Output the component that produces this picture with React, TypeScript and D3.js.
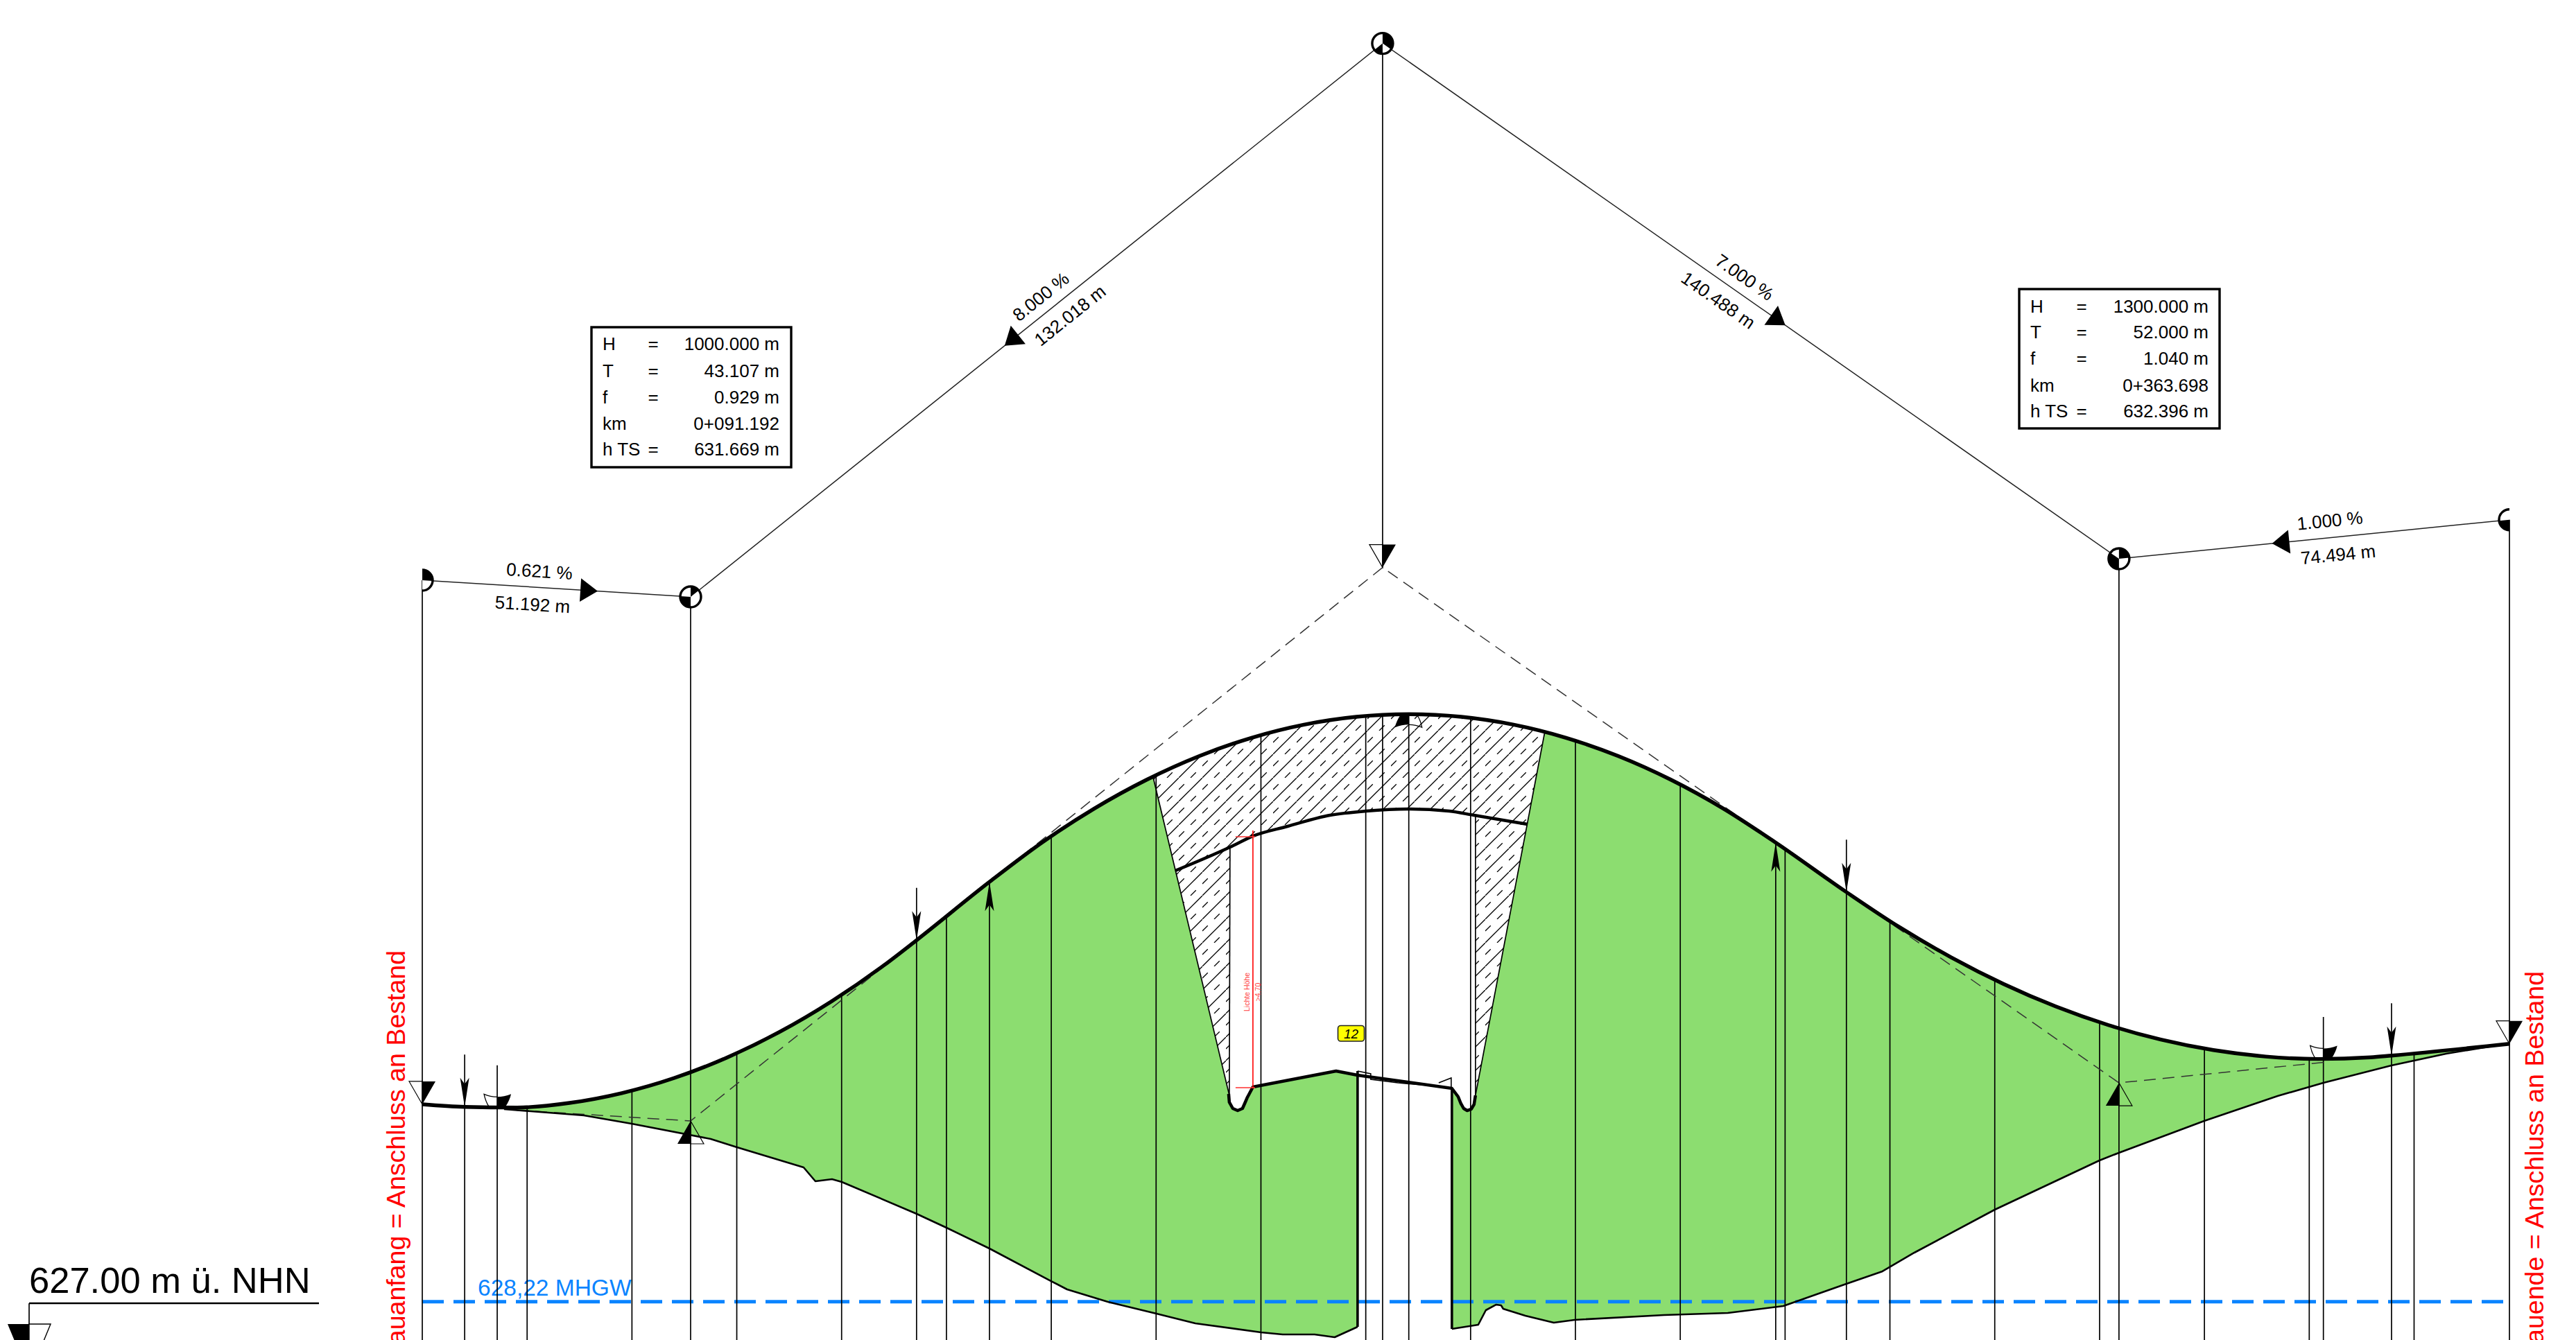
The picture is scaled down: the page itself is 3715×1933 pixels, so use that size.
import React from "react";
import * as d3 from "d3";

// ---- Data: stationing in metres (km 0+xxx) and heights in m ü. NHN ----
const tangentKm = [40, 91.192, 223.21, 363.698, 438.192];
const tangentH = [631.987, 631.669, 642.23, 632.396, 633.141];
const tangentLift = 10;

const profileKm = [40, 48.085, 58.085, 68.085, 78.085, 88.085, 98.085, 108.085, 118.085, 128.085, 134.299,
  148.21, 158.21, 168.21, 178.21, 188.21, 198.21, 208.21, 218.21, 228.21, 238.21, 248.21, 258.21, 268.21, 278.21, 288.21, 298.21,
  311.698, 321.698, 331.698, 341.698, 351.698, 361.698, 371.698, 381.698, 391.698, 401.698, 411.698, 415.698, 438.192];
const profileH = [631.987, 631.937, 631.925, 632.013, 632.201, 632.489, 632.877, 633.364, 633.952, 634.64, 635.118,
  636.23, 636.98, 637.63, 638.18, 638.63, 638.98, 639.23, 639.38, 639.43, 639.38, 639.23, 638.98, 638.63, 638.18, 637.63, 636.98,
  636.036, 635.374, 634.79, 634.282, 633.851, 633.498, 633.221, 633.021, 632.898, 632.851, 632.882, 632.916, 633.141];

const groundLeftKm = [55.6, 70.82, 79.95, 95.03, 100.05, 112.75, 115, 118.17, 120.03, 134.31, 140, 148.2, 159.97, 163.02, 170.82, 180.08, 187.49, 200.05, 204.15, 210.24, 214.07, 218.44];
const groundLeftH = [631.894, 631.775, 631.616, 631.325, 631.166, 630.783, 630.518, 630.558, 630.505, 629.897, 629.632, 629.235, 628.613, 628.455, 628.217, 627.992, 627.807, 627.635, 627.595, 627.595, 627.542, 627.74];

const groundRightKm = [236.43, 241.46, 242.91, 244.89, 245.82, 246.22, 250.45, 255.87, 259.84, 276.9, 289.07, 299.66, 311.3, 318.57, 324.66, 340, 359.97, 363.68, 379.95, 393.97, 402.7, 415.66, 426.11, 438.16];
const groundRightH = [627.701, 627.78, 628.058, 628.164, 628.15, 628.084, 627.952, 627.82, 627.873, 627.965, 628.005, 628.137, 628.547, 628.799, 629.156, 629.976, 630.915, 631.061, 631.669, 632.145, 632.397, 632.727, 632.952, 633.15];

const roadLeftKm = [193.84, 193.97, 194.63, 195.56, 196.48, 197.01, 197.41, 198.47, 214.34, 218.44];
const roadLeftH = [632.185, 632.026, 631.907, 631.867, 631.907, 632.026, 632.119, 632.317, 632.621, 632.542];
const roadRightKm = [218.44, 236.43, 237.62, 238.15, 238.68, 239.34, 240.13, 240.66, 240.93];
const roadRightH = [632.542, 632.291, 632.132, 632, 631.907, 631.867, 631.894, 631.986, 632.158];

const archKm = [183.65, 194.1, 198.47, 205.08, 213.15, 220.03, 228.36, 235.9, 240.66, 250.85];
const archH = [636.444, 636.894, 637.105, 637.291, 637.502, 637.582, 637.621, 637.582, 637.502, 637.331];

const slopeLeftTop = [179.4, 638.24];
const slopeLeftFoot = [193.97, 632.158];
const slopeRightTop = [254.15, 639.09];
const slopeRightFoot = [240.93, 632.158];
const abutmentKm = [218.44, 236.43];
const abutmentTopH = [632.621, 632.291];
const abutmentFootH = [627.74, 627.701];

const capKm = [218.44, 220.95, 220.95, 226.11, 233.92];
const capH = [632.621, 632.569, 632.463, 632.396, 632.33];
const flagKm = [233.92, 236.3, 236.3];
const flagH = [632.396, 632.489, 632.291];
const clearanceKm = 198.47;
const clearanceH = [637.105, 632.317];

const stationKm = [60, 80, 100, 120, 140, 160, 180, 200, 220, 240, 260, 280, 300, 320, 340, 360, 380, 400, 420];
const arrowDownKm = [48.085, 134.299, 311.698, 415.698];
const arrowUpKm = [148.21, 298.21];
const lowPointKm = [54.295, 402.698];
const crestPointKm = 228.21;
const gradeArrowKm = [73.47, 151.1, 300.05, 392.9];
const gradeArrowSeg = [0, 1, 2, 3];
const gradeArrowDir = [1, -1, 1, -1];
const mhgw = 628.22;

const gradeTexts = ["0.621 %", "8.000 %", "7.000 %", "1.000 %"];
const lengthTexts = ["51.192 m", "132.018 m", "140.488 m", "74.494 m"];
const box1Labels = ["H", "T", "f", "km", "h TS"];
const box1Eq = ["=", "=", "=", "", "="];
const box1Values = ["1000.000 m", "43.107 m", "0.929 m", "0+091.192", "631.669 m"];
const box2Values = ["1300.000 m", "52.000 m", "1.040 m", "0+363.698", "632.396 m"];

// ---- Scales ----
const W = 3715;
const H = 1933;
const x = d3.scaleLinear().domain([40, 438.192]).range([609, 3619]);
const y = d3.scaleLinear().domain([631.669, 642.23]).range([1617, 818.6]);

const FONT = "'Liberation Sans', Arial, sans-serif";
const BLUE = "#0a84ff";
const GREEN = "#8cdd70";
const RED = "#ff0000";

const zip = (a: number[], b: number[]): [number, number][] => a.map((v, i) => [v, b[i]]);
const lineLin = d3.line<[number, number]>().x((d) => x(d[0])).y((d) => y(d[1]));
const lineSmooth = d3.line<[number, number]>().x((d) => x(d[0])).y((d) => y(d[1])).curve(d3.curveMonotoneX);
const heightAt = d3.scaleLinear().domain(profileKm).range(profileH);

const profilePts = zip(profileKm, profileH);
const gLeft = zip(groundLeftKm, groundLeftH);
const gRight = zip(groundRightKm, groundRightH);
const roadL = zip(roadLeftKm, roadLeftH);
const roadR = zip(roadRightKm, roadRightH);
const arch = zip(archKm, archH);

const greenLeft: [number, number][] = [
  ...profilePts.filter((p) => p[0] > 56 && p[0] < slopeLeftTop[0]),
  slopeLeftTop as [number, number],
  ...roadL,
  ...gLeft.slice().reverse(),
];
const greenRight: [number, number][] = [
  [roadRightKm[1], roadRightH[1]],
  ...roadR.slice(2),
  slopeRightTop as [number, number],
  ...profilePts.filter((p) => p[0] > slopeRightTop[0]),
  ...gRight.slice().reverse(),
];
const hatchArea: [number, number][] = [
  slopeLeftTop as [number, number],
  ...profilePts.filter((p) => p[0] > slopeLeftTop[0] && p[0] < slopeRightTop[0]),
  slopeRightTop as [number, number],
  slopeRightFoot as [number, number],
  ...arch.slice(1, 9).reverse().map((p) => (p[0] === 240.66 ? ([240.93, p[1]] as [number, number]) : p)),
  slopeLeftFoot as [number, number],
];

const upper = (i: number): [number, number] => [x(tangentKm[i]), y(tangentH[i] + tangentLift)];
const arcGen = d3.arc();

function VpMarker({ i }: { i: number }) {
  const [cx, cy] = upper(i);
  const R = 15;
  const TAU = Math.PI * 2;
  const ang = (j: number) => {
    const [px, py] = upper(j);
    return Math.atan2(px - cx, -(py - cy)); // clockwise from north
  };
  const sectors: [number, number][] = [];
  if (i === 0) sectors.push([0, ang(1)]);
  else if (i === 4) sectors.push([Math.PI, TAU + ang(3)]);
  else {
    const norm = (t: number) => (t < 0 ? t + TAU : t);
    const an = norm(ang(i - 1));
    const bn = norm(ang(i + 1));
    sectors.push([0, Math.min(an, bn)]);
    sectors.push([Math.PI, Math.max(an, bn)]);
  }
  const clip = i === 0 ? "url(#halfR)" : i === 4 ? "url(#halfL)" : undefined;
  return (
    <g clipPath={clip}>
      <g transform={`translate(${cx},${cy})`}>
        <circle r={R} fill="#fff" stroke="#000" strokeWidth={3.4} />
        {sectors.map((s, k) => (
          <path key={k} fill="#000" d={arcGen({ innerRadius: 0, outerRadius: R, startAngle: s[0], endAngle: s[1] }) || ""} />
        ))}
      </g>
    </g>
  );
}

function GradeArrow({ i }: { i: number }) {
  const seg = gradeArrowSeg[i];
  const [x0, y0] = upper(seg);
  const [x1, y1] = upper(seg + 1);
  const len = Math.hypot(x1 - x0, y1 - y0);
  const ux = ((x1 - x0) / len) * gradeArrowDir[i];
  const uy = ((y1 - y0) / len) * gradeArrowDir[i];
  const tipX = x(gradeArrowKm[i]);
  const tipY = y0 + ((y1 - y0) * (tipX - x0)) / (x1 - x0);
  const bx = tipX - 25 * ux;
  const by = tipY - 25 * uy;
  return <path fill="#000" d={`M${tipX},${tipY}L${bx - 17 * uy},${by + 17 * ux}L${bx + 17 * uy},${by - 17 * ux}Z`} />;
}

function HalfTriangle({ km, h, dir }: { km: number; h: number; dir: number }) {
  // dir = 1: tip at the bottom, black to the right. dir = -1: tip on top, black to the left.
  const tx = x(km);
  const ty = y(h);
  const by = ty - 33 * dir;
  const black = tx + 19 * dir;
  const white = tx - 19 * dir;
  return (
    <g>
      <path d={`M${tx},${ty}L${white},${by}L${tx},${by}Z`} fill="none" stroke="#000" strokeWidth={1.2} />
      <path d={`M${tx},${ty}L${black},${by}L${tx},${by}Z`} fill="#000" />
    </g>
  );
}

function Stealth({ km, dir }: { km: number; dir: number }) {
  // dir = 1: points down on the grade line; dir = -1: points up on it.
  const tx = x(km);
  const ty = y(heightAt(km));
  const s = -dir;
  return <path fill="#000" d={`M${tx},${ty}L${tx - 6.5},${ty + s * 42}L${tx},${ty + s * 33}L${tx + 6.5},${ty + s * 42}Z`} />;
}

function Crescent({ km, dir }: { km: number; dir: number }) {
  // dir = 1: sag marker standing on the line; dir = -1: crest marker hanging under it, mirrored.
  const tx = x(km);
  const ty = y(heightAt(km));
  const s = -dir;
  const m = dir;
  const p1 = `M${tx},${ty + s * 1}L${tx + m * 12},${ty + s * 1}Q${tx + m * 18},${ty + s * 10} ${tx + m * 20},${ty + s * 19}Q${tx + m * 10},${ty + s * 15} ${tx},${ty + s * 15}Z`;
  const p2 = `M${tx},${ty + s * 15}Q${tx - m * 10},${ty + s * 15} ${tx - m * 19},${ty + s * 19}Q${tx - m * 17},${ty + s * 9} ${tx - m * 12},${ty + s * 1}`;
  return (
    <g>
      <path d={p2} fill="none" stroke="#000" strokeWidth={1.3} />
      <path d={p1} fill="#000" />
    </g>
  );
}

function LabelBox({ bx, by, bw, bh, tx, eqx, vx, rows, values }: { bx: number; by: number; bw: number; bh: number; tx: number; eqx: number; vx: number; rows: number[]; values: string[] }) {
  return (
    <g fontFamily={FONT} fontSize={26} fill="#000">
      <rect x={bx} y={by} width={bw} height={bh} fill="#fff" stroke="#000" strokeWidth={3.4} />
      {values.map((v, i) => (
        <g key={i}>
          <text x={tx} y={rows[i]} dominantBaseline="central">{box1Labels[i]}</text>
          <text x={eqx} y={rows[i]} textAnchor="middle" dominantBaseline="central">{box1Eq[i]}</text>
          <text x={vx} y={rows[i]} textAnchor="end" dominantBaseline="central">{v}</text>
        </g>
      ))}
    </g>
  );
}

function RotText({ t, px, py, a, size = 26 }: { t: string; px: number; py: number; a: number; size?: number }) {
  return (
    <text transform={`translate(${px},${py}) rotate(${a})`} textAnchor="middle" dominantBaseline="central" fontFamily={FONT} fontSize={size} fill="#000">
      {t}
    </text>
  );
}

export default function App() {
  const bottom = H;
  const vLine = (km: number, top: number, key: string, sw = 1.7) => (
    <line key={key} x1={x(km)} x2={x(km)} y1={top} y2={bottom} stroke="#000" strokeWidth={sw} />
  );
  return (
    <svg width={W} height={H} viewBox={`0 0 ${W} ${H}`} style={{ position: "fixed", left: 0, top: 0, display: "block", background: "#fff" }}>
      <defs>
        <pattern id="hatch" width={34} height={34} patternUnits="userSpaceOnUse">
          <path d="M-2,36L36,-2" stroke="#000" strokeWidth={1.3} />
          <path d="M0,17L17,0M17,34L34,17" stroke="#000" strokeWidth={1.3} strokeDasharray="11 13" />
        </pattern>
        <clipPath id="halfR"><rect x={x(40)} y={0} width={40} height={H} /></clipPath>
        <clipPath id="halfL"><rect x={x(438.192) - 40} y={0} width={40} height={H} /></clipPath>
      </defs>

      {/* fills */}
      <path d={(lineLin(greenLeft) || "") + "Z"} fill={GREEN} />
      <path d={(lineLin(greenRight) || "") + "Z"} fill={GREEN} />
      <path d={(lineLin(hatchArea) || "") + "Z"} fill="url(#hatch)" />

      {/* MHGW */}
      <line x1={x(40)} x2={x(438.192)} y1={y(mhgw)} y2={y(mhgw)} stroke={BLUE} strokeWidth={5} strokeDasharray="31 14" />
      <text x={689} y={1869} fontFamily={FONT} fontSize={33.5} fill={BLUE}>628,22 MHGW</text>

      {/* vertical lines */}
      {stationKm.map((k) => vLine(k, y(heightAt(k)), `s${k}`))}
      {arrowDownKm.map((k) => vLine(k, y(heightAt(k) + 1), `d${k}`))}
      {arrowUpKm.map((k) => vLine(k, y(heightAt(k)), `u${k}`))}
      {lowPointKm.map((k) => vLine(k, y(heightAt(k) + 0.8), `l${k}`))}
      {vLine(crestPointKm, y(heightAt(crestPointKm)), "crest")}
      {[0, 1, 3, 4].map((i) => vLine(tangentKm[i], upper(i)[1], `v${i}`))}
      <line x1={x(tangentKm[2])} x2={x(tangentKm[2])} y1={upper(2)[1]} y2={y(tangentH[2])} stroke="#000" strokeWidth={1.7} />
      {vLine(tangentKm[2], y(heightAt(tangentKm[2])), "vp2")}

      {/* upper tangent polygon */}
      <path d={lineLin(zip(tangentKm, tangentH.map((h) => h + tangentLift))) || ""} fill="none" stroke="#222" strokeWidth={1.5} />
      {/* lower tangent polygon, dashed */}
      <path
        d={lineLin([[58, 631.875], ...zip(tangentKm.slice(1, 4), tangentH.slice(1, 4)), [402.7, 632.787]]) || ""}
        fill="none"
        stroke="#333"
        strokeWidth={1.5}
        strokeDasharray="17 10"
      />

      {/* bridge */}
      <line x1={x(slopeLeftFoot[0])} x2={x(archKm[1])} y1={y(slopeLeftFoot[1])} y2={y(archH[1])} stroke="#000" strokeWidth={1.7} />
      <line x1={x(slopeRightFoot[0])} x2={x(slopeRightFoot[0])} y1={y(slopeRightFoot[1])} y2={y(archH[8])} stroke="#000" strokeWidth={1.7} />
      <path d={lineLin([slopeLeftTop as [number, number], slopeLeftFoot as [number, number]]) || ""} stroke="#000" strokeWidth={1.7} fill="none" />
      <path d={lineLin([slopeRightTop as [number, number], slopeRightFoot as [number, number]]) || ""} stroke="#000" strokeWidth={1.7} fill="none" />
      <path d={lineSmooth(arch) || ""} fill="none" stroke="#000" strokeWidth={4.5} />
      <path d={lineLin(roadL) || ""} fill="none" stroke="#000" strokeWidth={4.5} strokeLinejoin="round" />
      <path d={lineLin(roadR) || ""} fill="none" stroke="#000" strokeWidth={4.5} strokeLinejoin="round" />
      <path d={lineLin(zip(capKm, capH)) || ""} fill="none" stroke="#000" strokeWidth={1.6} />
      <path d={lineLin(zip(flagKm, flagH)) || ""} fill="none" stroke="#000" strokeWidth={1.6} />
      {abutmentKm.map((k, i) => (
        <line key={k} x1={x(k)} x2={x(k)} y1={y(abutmentTopH[i])} y2={y(abutmentFootH[i])} stroke="#000" strokeWidth={3.6} />
      ))}

      {/* ground and grade */}
      <path d={lineLin(gLeft) || ""} fill="none" stroke="#000" strokeWidth={2.6} strokeLinejoin="round" />
      <path d={lineLin(gRight) || ""} fill="none" stroke="#000" strokeWidth={2.6} strokeLinejoin="round" />
      <path d={lineSmooth(profilePts) || ""} fill="none" stroke="#000" strokeWidth={5.4} />

      {/* clearance */}
      <line x1={x(clearanceKm)} x2={x(clearanceKm)} y1={y(clearanceH[0]) - 8} y2={y(clearanceH[1]) + 2} stroke={RED} strokeWidth={1.6} />
      {clearanceH.map((h) => (
        <line key={h} x1={x(clearanceKm) - 25} x2={x(clearanceKm) + 3} y1={y(h) + 1} y2={y(h) + 1} stroke="#ff3b3b" strokeWidth={1.6} />
      ))}
      <text transform="translate(1798,1431) rotate(-90)" textAnchor="middle" dominantBaseline="central" fontFamily={FONT} fontSize={10.5} fill="#ff4040">Lichte Höhe</text>
      <text transform="translate(1814,1431) rotate(-90)" textAnchor="middle" dominantBaseline="central" fontFamily={FONT} fontSize={10.5} fill="#ff4040">&gt;4.70</text>

      {/* badge */}
      <rect x={1929.5} y={1479.5} width={38} height={22.5} rx={4} fill="#ffff00" stroke="#222" strokeWidth={1.6} />
      <text x={1948.5} y={1491} textAnchor="middle" dominantBaseline="central" fontFamily={FONT} fontStyle="italic" fontSize={19} fill="#000">12</text>

      {/* markers */}
      {[0, 1, 2, 3, 4].map((i) => <VpMarker key={i} i={i} />)}
      {gradeArrowKm.map((_, i) => <GradeArrow key={i} i={i} />)}
      <HalfTriangle km={tangentKm[0]} h={tangentH[0]} dir={1} />
      <HalfTriangle km={tangentKm[1]} h={tangentH[1]} dir={-1} />
      <HalfTriangle km={tangentKm[2]} h={tangentH[2]} dir={1} />
      <HalfTriangle km={tangentKm[3]} h={tangentH[3]} dir={-1} />
      <HalfTriangle km={tangentKm[4]} h={tangentH[4]} dir={1} />
      {arrowDownKm.map((k) => <Stealth key={k} km={k} dir={1} />)}
      {arrowUpKm.map((k) => <Stealth key={k} km={k} dir={-1} />)}
      {lowPointKm.map((k) => <Crescent key={k} km={k} dir={1} />)}
      <Crescent km={crestPointKm} dir={-1} />

      {/* grade labels */}
      <RotText t={gradeTexts[0]} px={778} py={824} a={3.6} />
      <RotText t={lengthTexts[0]} px={768} py={872} a={3.6} />
      <RotText t={gradeTexts[1]} px={1501} py={428} a={-38.7} />
      <RotText t={lengthTexts[1]} px={1543} py={455} a={-38.7} />
      <RotText t={gradeTexts[2]} px={2516} py={400} a={35} />
      <RotText t={lengthTexts[2]} px={2478} py={433} a={35} />
      <RotText t={gradeTexts[3]} px={3360} py={751} a={-5.7} />
      <RotText t={lengthTexts[3]} px={3372} py={800} a={-5.7} />

      <LabelBox bx={853} by={472} bw={288} bh={202} tx={869} eqx={942} vx={1124} rows={[496, 535, 573, 611, 648]} values={box1Values} />
      <LabelBox bx={2912} by={417} bw={289} bh={201} tx={2928} eqx={3002} vx={3185} rows={[442, 479, 517, 556, 593]} values={box2Values} />

      {/* red notes */}
      <text transform="translate(584,1371) rotate(-90)" textAnchor="end" fontFamily={FONT} fontSize={37.5} fill={RED}>Bauanfang = Anschluss an Bestand</text>
      <text transform="translate(3668,1401) rotate(-90)" textAnchor="end" fontFamily={FONT} fontSize={37.5} fill={RED}>Bauende = Anschluss an Bestand</text>

      {/* datum */}
      <text x={42} y={1865} fontFamily={FONT} fontSize={52.5} fill="#000">627.00 m ü. NHN</text>
      <line x1={42} x2={460} y1={1880} y2={1880} stroke="#000" strokeWidth={2.5} />
      <line x1={42} x2={42} y1={1880} y2={1933} stroke="#000" strokeWidth={1.7} />
      <path d="M42,1910L73,1910L42,1985Z" fill="#fff" stroke="#000" strokeWidth={1.4} />
      <path d="M42,1910L11,1910L42,1985Z" fill="#000" />
    </svg>
  );
}
